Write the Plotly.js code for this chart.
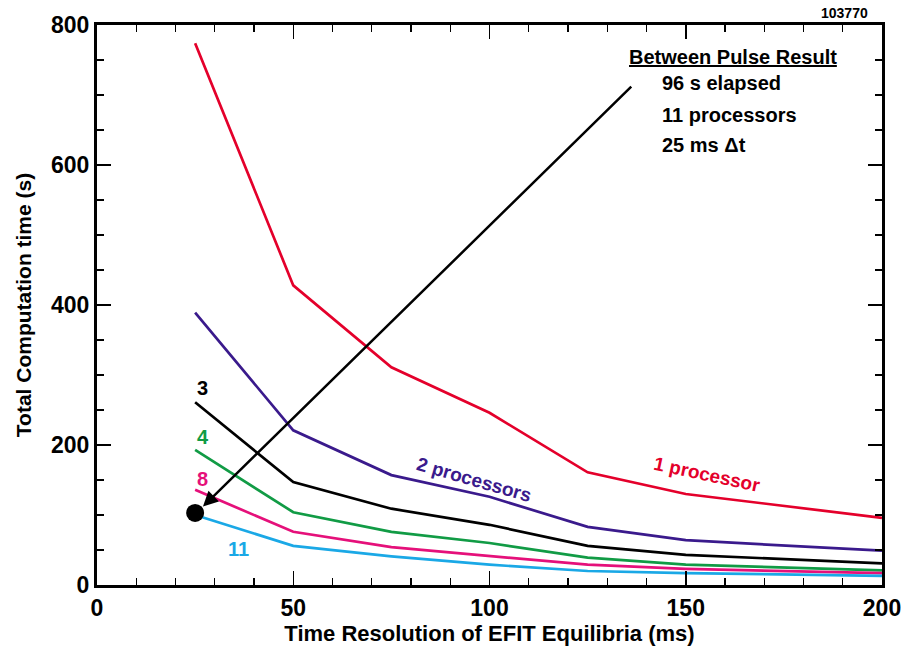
<!DOCTYPE html>
<html>
<head>
<meta charset="utf-8">
<script src="https://cdn.plot.ly/plotly-3.0.1.min.js"></script>
<style>body{margin:0;padding:0;background:#fff}#chart{width:904px;height:649px}</style>
</head>
<body>
<div id="chart"></div>
<script>
const resolutionMs = [25, 50, 75, 100, 125, 150, 200];
const proc1 = [774, 428, 311, 246, 161, 130, 96];
const proc2 = [389, 221, 157, 126, 83, 64, 49];
const proc3 = [261, 147, 109, 86, 56, 43, 31];
const proc4 = [193, 104, 76, 60, 39, 29, 21];
const proc8 = [136, 76, 54, 41, 29, 23, 17];
const proc11 = [100, 56, 41, 29, 20, 17, 13];
const resultPoint = {x: [25], y: [103]};

const seriesNames = ['1 processor', '2 processors', '3', '4', '8', '11'];
const seriesData = [proc1, proc2, proc3, proc4, proc8, proc11];
const colors = ['#e4002b', '#3a1a8c', '#000000', '#119b45', '#e5107a', '#1aa8e6'];

const FONT = '"Liberation Sans Narrow", "Arial Narrow", "Liberation Sans", Arial, sans-serif';

const traces = seriesData.map((ys, i) => ({
  x: resolutionMs, y: ys, type: 'scatter', mode: 'lines', name: seriesNames[i],
  line: {color: colors[i], width: 2.7}, showlegend: false, hoverinfo: 'skip'
}));
traces.push({x: resultPoint.x, y: resultPoint.y, type: 'scatter', mode: 'markers',
  marker: {color: '#000', size: 18}, showlegend: false, hoverinfo: 'skip'});

const lab = (x, y, text, color, size, angle, extra) => Object.assign({
  x: x, y: y, xref: 'x', yref: 'y', text: text, showarrow: false,
  font: {family: FONT, size: size, color: color, weight: 'bold'}, textangle: angle || 0
}, extra || {});

const annotations = [
  lab(27, 282, '<b>3</b>', colors[2], 20),
  lab(27, 211, '<b>4</b>', colors[3], 20),
  lab(27, 152, '<b>8</b>', colors[4], 20),
  lab(36, 52, '<b>11</b>', colors[5], 20),
  lab(96, 151, '<b>2 processors</b>', colors[1], 19, 16),
  lab(155.5, 158, '<b>1 processor</b>', colors[0], 19, 12),
  lab(135, 755, '<b><u>Between Pulse Result</u></b>', '#000', 20, 0, {xanchor: 'left'}),
  lab(143.5, 717, '<b>96 s elapsed</b>', '#000', 20, 0, {xanchor: 'left'}),
  lab(143.5, 672, '<b>11 processors</b>', '#000', 20, 0, {xanchor: 'left'}),
  lab(143.5, 628, '<b>25 ms \u0394t</b>', '#000', 20, 0, {xanchor: 'left'}),
  {x: 27, y: 112, ax: 136.5, ay: 714, xref: 'x', yref: 'y', axref: 'x', ayref: 'y',
   text: '', showarrow: true, arrowhead: 2, arrowsize: 1.2, arrowwidth: 2.5, arrowcolor: '#000'},
  {x: 1, y: 1, xref: 'paper', yref: 'paper', xanchor: 'right', yanchor: 'bottom', yshift: 2, xshift: -12,
   text: '<b>103770</b>', showarrow: false, font: {family: FONT, size: 14, color: '#000'}}
];

const axisCommon = {
  showgrid: false, zeroline: false, showline: true, linecolor: '#000', linewidth: 3,
  mirror: 'ticks', ticks: 'inside', ticklen: 14, tickwidth: 1.5, tickcolor: '#000',
  tickfont: {family: FONT, size: 23, color: '#000', weight: 'bold'}
};

const layout = {
  width: 904, height: 649,
  margin: {l: 97, r: 22, t: 25, b: 64},
  paper_bgcolor: '#fff', plot_bgcolor: '#fff',
  xaxis: Object.assign({}, axisCommon, {
    range: [0, 200], tickvals: [0, 50, 100, 150, 200], ticktext: ['0','50','100','150','200'],
    minor: {dtick: 10, ticks: 'inside', ticklen: 7, tickwidth: 1.2, tickcolor: '#000'},
    title: {text: '<b>Time Resolution of EFIT Equilibria (ms)</b>', standoff: 4,
      font: {family: FONT, size: 22, color: '#000'}}
  }),
  yaxis: Object.assign({}, axisCommon, {
    range: [0, 800], tickvals: [0, 200, 400, 600, 800], ticktext: ['0','200','400','600','800'],
    minor: {dtick: 50, ticks: 'inside', ticklen: 7, tickwidth: 1.2, tickcolor: '#000'},
    title: {text: '<b>Total Computation time (s)</b>', standoff: 14,
      font: {family: FONT, size: 21, color: '#000'}}
  }),
  annotations: annotations
};

Plotly.newPlot('chart', traces, layout, {staticPlot: true, displayModeBar: false});
</script>
</body>
</html>
